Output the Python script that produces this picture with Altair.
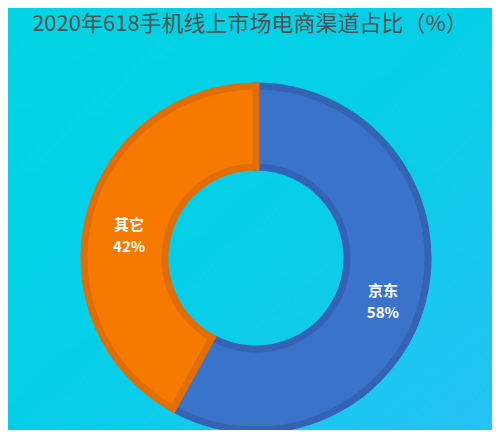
import altair as alt
import pandas as pd

categories = ["京东", "其它"]
values = [58, 42]
labels = ["京东\n58%", "其它\n42%"]
fills = ["#3a74ca", "#f77a00"]
strokes = ["#3463b6", "#e06d08"]
title_text = "2020年618手机线上市场电商渠道占比（%）"

W, H = 484, 422
CX, CY = 248, 250

df = pd.DataFrame({"cat": categories, "value": values, "label": labels, "order": [0, 1]})

bg = alt.Chart(pd.DataFrame({"a": [0]})).mark_rect(
    color=alt.Gradient(
        gradient="linear",
        stops=[alt.GradientStop(color="#00d5e2", offset=0),
               alt.GradientStop(color="#05cfe8", offset=0.5),
               alt.GradientStop(color="#26c2f5", offset=1)],
        x1=0, y1=0, x2=1, y2=1,
    )
).encode(x=alt.value(0), x2=alt.value(W), y=alt.value(0), y2=alt.value(H))

base = alt.Chart(df).encode(
    theta=alt.Theta("value:Q", stack=True),
    order=alt.Order("order:Q"),
)

arcs = base.mark_arc(outerRadius=172, innerRadius=91, strokeWidth=7).encode(
    color=alt.Color("cat:N", scale=alt.Scale(domain=categories, range=fills), legend=None),
    stroke=alt.Stroke("cat:N", scale=alt.Scale(domain=categories, range=strokes), legend=None),
    x=alt.value(CX), y=alt.value(CY),
)

text = base.mark_text(
    radius=131, color="white", fontSize=15, fontWeight="bold",
    font="Noto Sans CJK SC", lineBreak="\n", lineHeight=22, baseline="middle",
).encode(text="label:N", x=alt.value(CX), y=alt.value(CY))

title = alt.Chart(pd.DataFrame({"t": [title_text]})).mark_text(
    fontSize=22, color="#4f4f4f", font="Noto Sans CJK SC", baseline="middle", align="center",
).encode(text="t:N", x=alt.value(W / 2), y=alt.value(16))

chart = alt.layer(bg, arcs, text, title).properties(
    width=W, height=H,
    autosize=alt.AutoSizeParams(type="fit", contains="padding"),
    padding=0,
).configure_view(stroke=None).configure(background="#05cfe8")

chart.save("out.html", embed_options={"renderer": "svg", "actions": False})
